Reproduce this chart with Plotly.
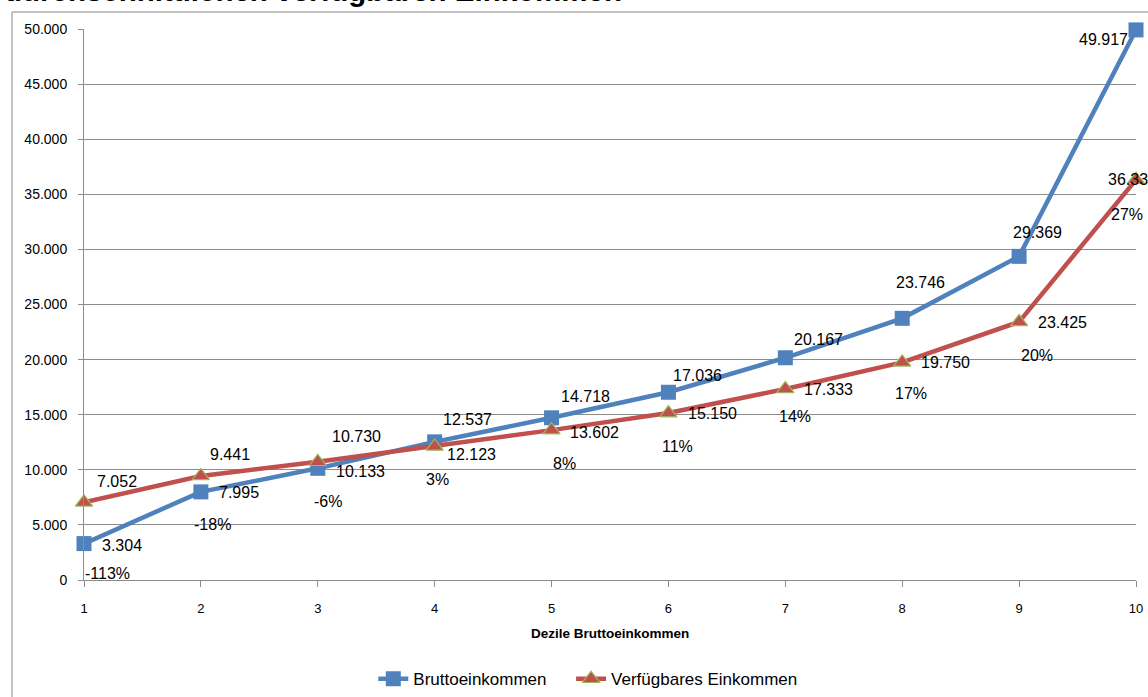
import plotly.graph_objects as go

# ---- data ----
dezile = [1, 2, 3, 4, 5, 6, 7, 8, 9, 10]
brutto = [3304, 7995, 10133, 12537, 14718, 17036, 20167, 23746, 29369, 49917]
verfuegbar = [7052, 9441, 10730, 12123, 13602, 15150, 17333, 19750, 23425, 36330]
differenz_pct = [-113, -18, -6, 3, 8, 11, 14, 17, 20, 27]
y_ticks = [0, 5000, 10000, 15000, 20000, 25000, 30000, 35000, 40000, 45000, 50000]

# ---- label placement (pixel offsets: dx right, dy down) ----
brutto_off = [(38, 2), (38, 1), (43, 3), (33, -22), (34, -21), (29, -17), (33, -18), (18, -36), (18, -24), (-33, 10)]
verf_off = [(33, -21), (29, -21), (39, -25), (37, 8), (43, 2), (44, 0), (43, 1), (43, 0), (43, 1), (-4, 0)]
pct_off = [(23, 71), (12, 49), (10, 40), (3, 33), (13, 33), (9, 33), (10, 28), (9, 31), (18, 34), (-9, 35)]

BLUE = "#4F81BD"
RED = "#C0504D"
GREEN = "#9BBB59"
GRID = "#8C8C8C"
FONT = "Liberation Sans"


def fmt(v):
    return f"{v:,}".replace(",", ".")


fig = go.Figure()
fig.add_trace(go.Scatter(
    x=dezile, y=brutto, mode="lines+markers", name="Bruttoeinkommen",
    line=dict(color=BLUE, width=4.5),
    marker=dict(symbol="square", size=15, color=BLUE, line=dict(width=0)),
    cliponaxis=False, legend="legend",
))
fig.add_trace(go.Scatter(
    x=dezile, y=verfuegbar, mode="lines+markers", name="Verfügbares Einkommen",
    line=dict(color=RED, width=4.5),
    marker=dict(symbol="triangle-up", size=15, color=RED, line=dict(width=1.2, color=GREEN)),
    cliponaxis=False, legend="legend2",
))

annotations = []
for i, x in enumerate(dezile):
    for val, off in ((brutto[i], brutto_off[i]), (verfuegbar[i], verf_off[i])):
        annotations.append(dict(
            x=x, y=val, xref="x", yref="y", text=fmt(val), showarrow=False,
            xanchor="center", yanchor="middle", xshift=off[0], yshift=-off[1],
            font=dict(family=FONT, size=16, color="#000000"),
        ))
    annotations.append(dict(
        x=x, y=verfuegbar[i], xref="x", yref="y", text=f"{differenz_pct[i]}%", showarrow=False,
        xanchor="center", yanchor="middle", xshift=pct_off[i][0], yshift=-pct_off[i][1],
        font=dict(family=FONT, size=16, color="#000000"),
    ))

# title (partially cut off at the top of the picture)
annotations.append(dict(
    x=-0.0775, y=1.036, xref="paper", yref="paper", xanchor="left", yanchor="bottom",
    text="<b>durchschnittlichen verfügbaren Einkommen</b>", showarrow=False,
    font=dict(family=FONT, size=29.5, color="#000000"),
))
# x axis title
annotations.append(dict(
    x=0.5, y=-0.098, xref="paper", yref="paper", xanchor="center", yanchor="middle",
    text="<b>Dezile Bruttoeinkommen</b>", showarrow=False,
    font=dict(family=FONT, size=13.5, color="#000000"),
))

legend_common = dict(
    orientation="h", y=-0.18, yanchor="middle", xanchor="left",
    font=dict(family=FONT, size=17, color="#000000"),
    itemwidth=30, bgcolor="rgba(0,0,0,0)",
)

fig.update_layout(
    width=1148, height=697,
    margin=dict(l=84, r=12, t=29, b=117, autoexpand=False),
    paper_bgcolor="white", plot_bgcolor="white",
    separators=",.",
    font=dict(family=FONT, size=14, color="#000000"),
    showlegend=True,
    legend=dict(x=0.275, **legend_common),
    legend2=dict(x=0.463, **legend_common),
    annotations=annotations,
    shapes=[dict(
        type="rect", xref="paper", yref="paper",
        x0=(12 - 84) / 1052, x1=1.2, y0=-0.5, y1=(580 - 12) / 551,
        line=dict(color="#868686", width=1), fillcolor="rgba(0,0,0,0)", layer="below",
    )],
)

fig.update_xaxes(
    range=[1, 10], tickmode="array", tickvals=dezile, ticktext=[str(d) for d in dezile],
    showgrid=False, zeroline=False, showline=True, linecolor=GRID, linewidth=1,
    ticks="outside", ticklen=6, tickcolor=GRID, ticklabelstandoff=10,
    tickfont=dict(family=FONT, size=13), automargin=False,
)
fig.update_yaxes(
    range=[0, 50000], tickmode="array", tickvals=y_ticks, ticktext=[fmt(v) for v in y_ticks],
    showgrid=True, gridcolor=GRID, gridwidth=1, zeroline=False,
    showline=True, linecolor=GRID, linewidth=1,
    ticks="outside", ticklen=5, tickcolor=GRID, ticklabelstandoff=8,
    tickfont=dict(family=FONT, size=14), automargin=False,
)

fig.write_html(
    "out.html",
    config={"responsive": False, "displayModeBar": False},
    post_script="document.body.style.margin='0';document.body.style.overflow='hidden';",
)
